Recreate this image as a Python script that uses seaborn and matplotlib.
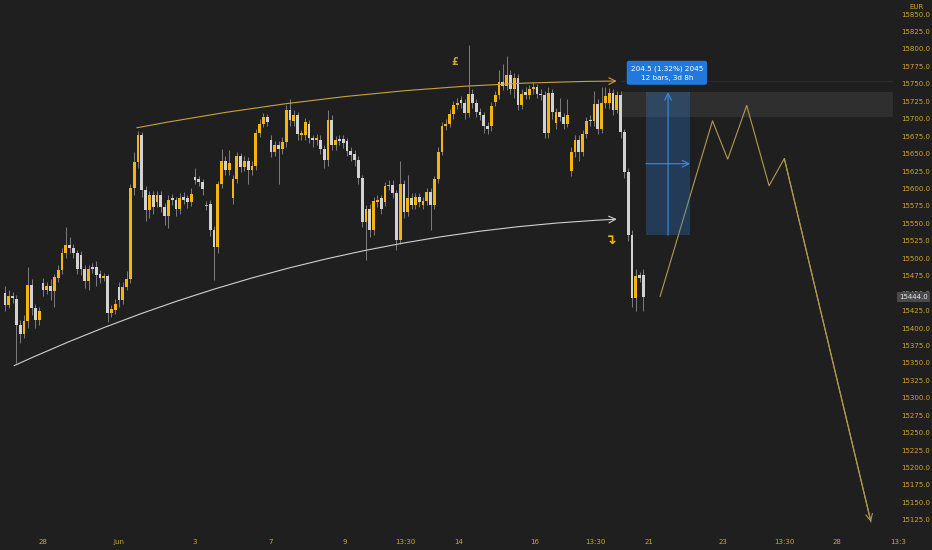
import numpy as np
import pandas as pd
import seaborn as sns
import matplotlib.pyplot as plt
from matplotlib.patches import Rectangle

# OHLC (EUR index, ~4h bars)
opens = [15450, 15433, 15446, 15442, 15404, 15392, 15410, 15461, 15428, 15412,
         15464, 15454, 15460, 15453, 15472, 15483, 15507, 15519, 15515, 15508,
         15505, 15484, 15467, 15487, 15487, 15477, 15472, 15474, 15422, 15426,
         15459, 15440, 15459, 15470, 15600, 15638, 15676, 15598, 15569, 15590,
         15581, 15590, 15574, 15561, 15586, 15583, 15571, 15588, 15586, 15581,
         15616, 15613, 15609, 15575, 15578, 15540, 15516, 15606, 15640, 15627,
         15587, 15614, 15646, 15631, 15639, 15627, 15632, 15680, 15693, 15702,
         15669, 15653, 15662, 15656, 15667, 15713, 15697, 15705, 15676, 15677,
         15692, 15672, 15670, 15670, 15657, 15641, 15698, 15662, 15671, 15671,
         15668, 15654, 15649, 15641, 15615, 15552, 15570, 15540, 15580, 15586,
         15580, 15603, 15605, 15593, 15526, 15607, 15567, 15587, 15577, 15588,
         15576, 15582, 15595, 15576, 15613, 15653, 15689, 15693, 15707, 15719,
         15727, 15723, 15708, 15736, 15722, 15710, 15705, 15690, 15689, 15724,
         15734, 15753, 15747, 15763, 15742, 15759, 15720, 15739, 15734, 15742,
         15745, 15736, 15734, 15679, 15737, 15694, 15710, 15703, 15693, 15625,
         15652, 15670, 15653, 15678, 15698, 15697, 15721, 15685, 15723, 15722,
         15737, 15713, 15734, 15681, 15624, 15533, 15443, 15476, 15476]
closes = [15433, 15446, 15443, 15404, 15392, 15410, 15461, 15428, 15412, 15424,
          15454, 15460, 15453, 15473, 15483, 15507, 15519, 15514, 15508, 15484,
          15484, 15467, 15484, 15484, 15476, 15471, 15474, 15422, 15427, 15434,
          15440, 15459, 15470, 15600, 15638, 15676, 15598, 15569, 15590, 15574,
          15590, 15574, 15561, 15584, 15583, 15571, 15587, 15584, 15581, 15592,
          15612, 15610, 15599, 15577, 15540, 15516, 15606, 15640, 15627, 15636,
          15614, 15646, 15631, 15639, 15627, 15632, 15680, 15693, 15702, 15695,
          15653, 15662, 15656, 15667, 15713, 15698, 15705, 15678, 15679, 15695,
          15672, 15670, 15672, 15657, 15641, 15698, 15662, 15669, 15668, 15665,
          15654, 15648, 15641, 15615, 15552, 15570, 15540, 15582, 15583, 15570,
          15604, 15605, 15593, 15526, 15607, 15567, 15586, 15577, 15588, 15581,
          15582, 15595, 15576, 15613, 15653, 15689, 15693, 15707, 15719, 15723,
          15723, 15708, 15736, 15722, 15710, 15705, 15689, 15686, 15718, 15734,
          15753, 15747, 15763, 15742, 15758, 15720, 15735, 15734, 15742, 15745,
          15736, 15734, 15679, 15737, 15709, 15710, 15703, 15693, 15705, 15652,
          15670, 15653, 15678, 15697, 15697, 15721, 15685, 15723, 15733, 15737,
          15713, 15734, 15681, 15624, 15533, 15443, 15475, 15472, 15444]
highs = [15460, 15455, 15452, 15447, 15412, 15418, 15488, 15470, 15435, 15430,
         15472, 15466, 15470, 15478, 15490, 15514, 15545, 15530, 15521, 15512,
         15510, 15490, 15490, 15493, 15496, 15483, 15479, 15478, 15433, 15442,
         15466, 15466, 15482, 15606, 15652, 15683, 15681, 15603, 15596, 15596,
         15596, 15596, 15579, 15591, 15592, 15588, 15594, 15595, 15591, 15600,
         15630, 15618, 15614, 15582, 15584, 15546, 15611, 15656, 15646, 15655,
         15620, 15652, 15651, 15646, 15645, 15640, 15686, 15700, 15708, 15707,
         15676, 15668, 15668, 15674, 15719, 15729, 15712, 15710, 15684, 15701,
         15698, 15677, 15678, 15676, 15662, 15712, 15705, 15675, 15677, 15676,
         15672, 15660, 15655, 15646, 15620, 15576, 15578, 15588, 15590, 15591,
         15610, 15612, 15612, 15598, 15640, 15612, 15620, 15593, 15594, 15594,
         15588, 15600, 15601, 15618, 15660, 15695, 15700, 15714, 15725, 15730,
         15733, 15728, 15806, 15742, 15728, 15716, 15710, 15695, 15724, 15740,
         15770, 15778, 15790, 15770, 15766, 15764, 15742, 15745, 15748, 15752,
         15750, 15742, 15740, 15745, 15742, 15716, 15730, 15708, 15728, 15660,
         15676, 15676, 15684, 15703, 15705, 15740, 15728, 15745, 15745, 15744,
         15742, 15740, 15740, 15686, 15630, 15540, 15484, 15480, 15484]
lows = [15425, 15428, 15436, 15350, 15378, 15385, 15400, 15418, 15400, 15405,
        15446, 15449, 15440, 15430, 15466, 15477, 15501, 15508, 15500, 15478,
        15476, 15458, 15455, 15479, 15460, 15464, 15467, 15409, 15416, 15420,
        15430, 15434, 15454, 15464, 15590, 15629, 15588, 15553, 15558, 15564,
        15574, 15566, 15548, 15544, 15576, 15560, 15564, 15578, 15572, 15575,
        15606, 15603, 15590, 15569, 15532, 15469, 15508, 15600, 15620, 15620,
        15578, 15608, 15624, 15625, 15606, 15620, 15626, 15674, 15688, 15690,
        15645, 15646, 15607, 15649, 15660, 15690, 15690, 15670, 15670, 15670,
        15665, 15660, 15663, 15650, 15630, 15632, 15655, 15655, 15662, 15658,
        15646, 15640, 15632, 15606, 15545, 15497, 15530, 15534, 15574, 15563,
        15575, 15598, 15586, 15512, 15520, 15558, 15560, 15570, 15570, 15574,
        15570, 15576, 15540, 15570, 15608, 15648, 15684, 15688, 15700, 15714,
        15716, 15700, 15702, 15715, 15703, 15698, 15680, 15678, 15682, 15718,
        15728, 15741, 15741, 15735, 15730, 15712, 15714, 15728, 15728, 15736,
        15730, 15727, 15672, 15672, 15700, 15686, 15697, 15686, 15688, 15618,
        15645, 15640, 15646, 15672, 15690, 15690, 15678, 15680, 15716, 15714,
        15706, 15708, 15672, 15615, 15525, 15430, 15425, 15466, 15424]

# drawings on the chart (bar index, price)
upper_arc = [(34.7, 15687), (161.0, 15754)]
lower_arc = [(2.4, 15346), (161.0, 15556)]
path_x = [172.4, 186.2, 190.2, 195.2, 201.1, 205.1, 227.9]
path_y = [15445, 15697, 15642, 15719, 15604, 15643, 15122]
measure = dict(x0=168.7, x1=180.3, lo=15533, hi=15738)
band = dict(x0=162.0, lo=15702, hi=15738)

tick_pos = [10, 30, 50, 70, 89.5, 105.5, 119.5, 139.5, 155.5, 169.5, 189, 205, 219]
tick_lab = ["28", "Jun", "3", "7", "9", "13:30", "14", "16", "13:30", "21", "23", "13:30", "28"]
price_ticks = np.arange(15125, 15851, 25)

BG = "#1f1f1f"
GOLD = "#d6a52c"
UP = "#f5b50c"
DOWN = "#d2d2d2"

sns.set_theme(style="dark", rc={"axes.facecolor": BG, "figure.facecolor": BG,
                                "axes.edgecolor": BG, "grid.color": BG})
plt.rcParams["font.family"] = ["DejaVu Sans"]

df = pd.DataFrame({"open": opens, "high": highs, "low": lows, "close": closes})
df["bar"] = np.arange(len(df))
df["up"] = df["close"] >= df["open"]

fig, ax = plt.subplots(figsize=(9.32, 5.5), dpi=100)
fig.subplots_adjust(left=0, right=893 / 932, bottom=18 / 550, top=1)

# band + faint level line behind everything
ax.add_patch(Rectangle((band["x0"], band["lo"]), 300, band["hi"] - band["lo"],
                       facecolor="#3a3a3a", alpha=0.6, lw=0, zorder=0))
ax.plot([band["x0"], 240], [15754, 15754], color="#2c2c2c", lw=0.8, zorder=0)

# candles
ax.vlines(df["bar"], df["low"], df["high"], color="#8c8c8c", lw=0.6, zorder=1)
body_lo = df[["open", "close"]].min(axis=1)
body_h = np.maximum((df["close"] - df["open"]).abs(), 1.5)
colors = np.where(df["up"], UP, DOWN)
ax.bar(df["bar"], body_h, bottom=body_lo, width=0.72, color=colors, lw=0, zorder=2)

# curved trend drawings
ax.annotate("", xy=upper_arc[1], xytext=upper_arc[0],
            arrowprops=dict(arrowstyle="->", color="#c9a23a", lw=0.8,
                            connectionstyle="arc3,rad=-0.046", shrinkA=0, shrinkB=0))
ax.annotate("", xy=lower_arc[1], xytext=lower_arc[0],
            arrowprops=dict(arrowstyle="->", color="#d0d0d0", lw=0.8,
                            connectionstyle="arc3,rad=-0.097", shrinkA=0, shrinkB=0))

# projected path
sns.lineplot(x=path_x, y=path_y, sort=False, color="#b39a4e", lw=0.8, ax=ax)
ax.annotate("", xy=(path_x[-1], path_y[-1]), xytext=(path_x[-2], path_y[-2]),
            arrowprops=dict(arrowstyle="->", color="#b39a4e", lw=0.8, shrinkA=0, shrinkB=0))

# measure tool
ax.add_patch(Rectangle((measure["x0"], measure["lo"]), measure["x1"] - measure["x0"],
                       measure["hi"] - measure["lo"], facecolor="#2f7fd6", alpha=0.3,
                       lw=0, zorder=3))
xm = (measure["x0"] + measure["x1"]) / 2
ym = (measure["lo"] + measure["hi"]) / 2
ax.annotate("", xy=(xm, measure["hi"]), xytext=(xm, measure["lo"]),
            arrowprops=dict(arrowstyle="->", color="#3a8ee6", lw=0.8, shrinkA=0, shrinkB=0))
ax.annotate("", xy=(measure["x1"], ym), xytext=(measure["x0"], ym),
            arrowprops=dict(arrowstyle="->", color="#3a8ee6", lw=0.8, shrinkA=0, shrinkB=0))
ax.text(174.2, 15765.5, "204.5 (1.32%) 2045\n12 bars, 3d 8h", ha="center", va="center",
        fontsize=5.2, color="white", linespacing=1.6, zorder=5,
        bbox=dict(boxstyle="round,pad=0.55,rounding_size=0.3", fc="#2179dc", ec="none"))

# icons
ax.text(118.4, 15781, "£", color="#c9a23a", fontsize=7, fontweight="bold",
        ha="center", va="center")
ax.text(159.5, 15526, "↴", color=UP, fontsize=10, fontweight="bold",
        ha="center", va="center")

# axes
ax.set_xlim(-1.3, 233.7)
ax.set_ylim(15107.6, 15870.2)
ax.set_xticks(tick_pos)
ax.set_xticklabels(tick_lab)
ax.yaxis.tick_right()
ax.set_yticks(price_ticks)
ax.set_yticklabels([f"{p:.1f}" for p in price_ticks])
ax.tick_params(axis="both", length=0, colors=GOLD, labelsize=5)
ax.tick_params(axis="y", pad=6)
ax.tick_params(axis="x", pad=5)
ax.set_xlabel("")
ax.set_ylabel("")
ax.grid(False)
for s in ax.spines.values():
    s.set_visible(False)

# last price tag
ax.text(1.007, 15444, "15444.0", transform=ax.get_yaxis_transform(), fontsize=5,
        color="#e6e6e6", va="center", ha="left", zorder=6, clip_on=False,
        bbox=dict(boxstyle="square,pad=0.3", fc="#4a4a4a", ec="none"))
fig.text(917 / 932, 1 - 7 / 550, "EUR", fontsize=5, color=GOLD, ha="center", va="center")
fig.text(898 / 932, 1 - 542 / 550, "13:3", fontsize=5, color=GOLD, ha="center", va="center")

fig.savefig("out.png", dpi=100, facecolor=BG)
